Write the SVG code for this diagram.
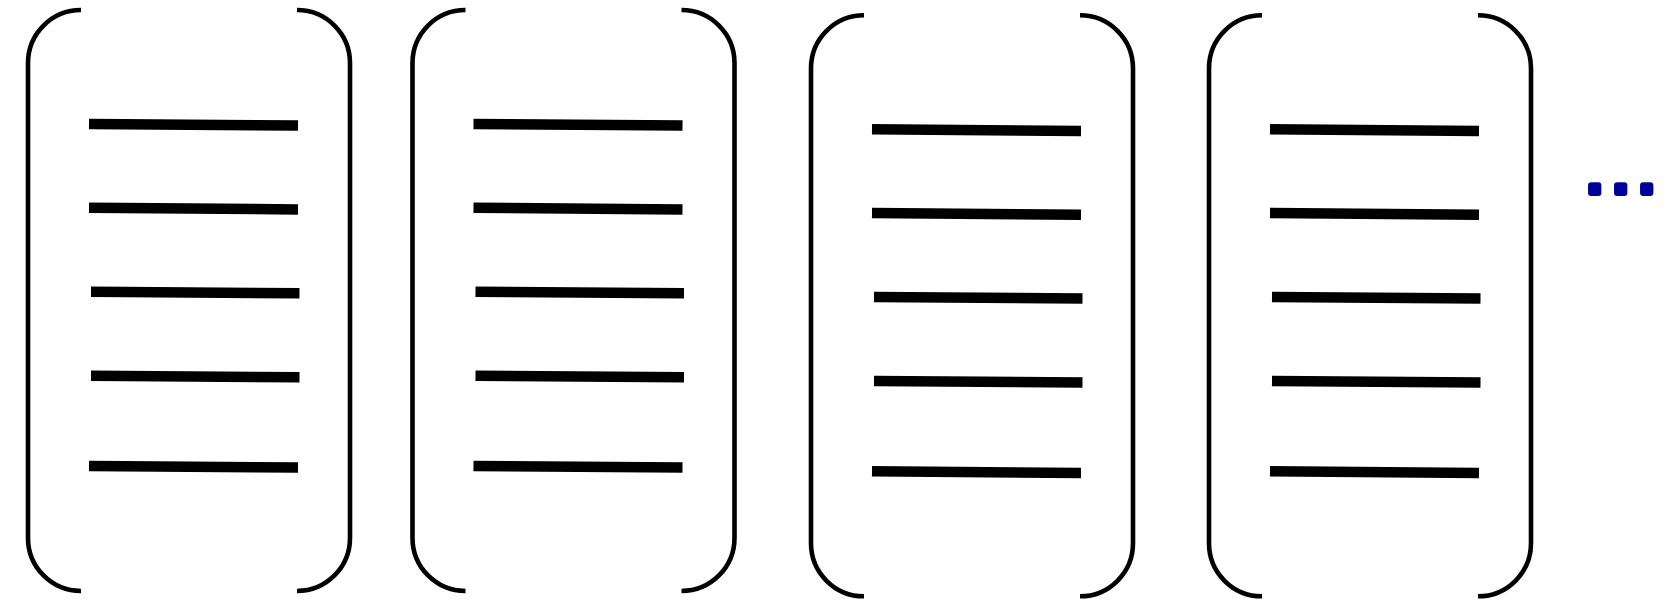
<svg xmlns="http://www.w3.org/2000/svg" xmlns:xlink="http://www.w3.org/1999/xlink" width="1665" height="606" viewBox="0 0 1665 606">
<style>
.br{fill:none;stroke:#000;stroke-width:4.6}
.bar{stroke:#000;stroke-width:10.5;stroke-linecap:butt}
.dots{font-family:"Liberation Sans",Arial,sans-serif;font-weight:bold;font-size:52px;letter-spacing:11.6px;fill:#000099;stroke:#000099;stroke-width:6;stroke-linejoin:round}
</style>
<defs>
<g id="block">
<path class="br" d="M 81 10 A 53 53 0 0 0 28 63 V 538 A 53 53 0 0 0 81 591"/>
<path class="br" d="M 297 10 A 53 53 0 0 1 350 63 V 538 A 53 53 0 0 1 297 591"/>
<line class="bar" x1="89" y1="124" x2="298" y2="125.6"/>
<line class="bar" x1="89" y1="207.8" x2="298" y2="209.4"/>
<line class="bar" x1="91" y1="291.7" x2="299.5" y2="293.3"/>
<line class="bar" x1="91" y1="375.7" x2="299.5" y2="377.3"/>
<line class="bar" x1="89" y1="466" x2="298" y2="467.6"/>
</g>
</defs>
<g id="node1"><use xlink:href="#block" href="#block"/></g>
<g id="node2" transform="translate(384.5,0)"><use xlink:href="#block" href="#block"/></g>
<g id="node3" transform="translate(783,5.3)"><use xlink:href="#block" href="#block"/></g>
<g id="node4" transform="translate(1181,5.3)"><use xlink:href="#block" href="#block"/></g>
<g id="connectors"></g>
<g id="ellipsis"><text class="dots" x="1587.5" y="193">...</text></g>
</svg>
